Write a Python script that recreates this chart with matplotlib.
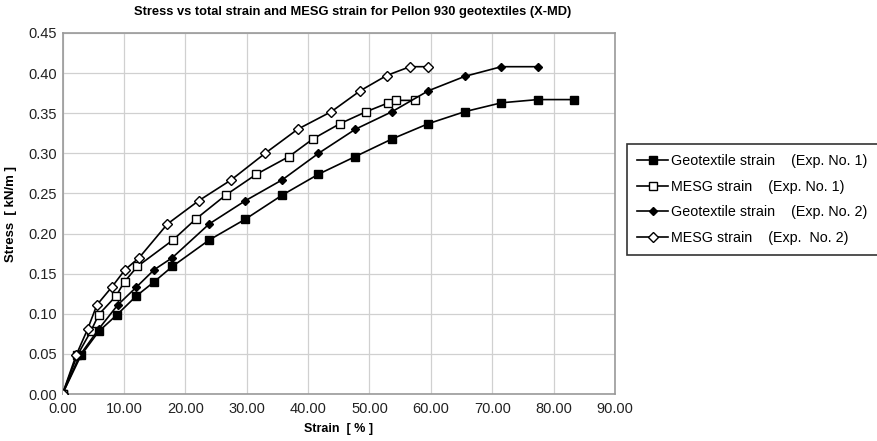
import matplotlib
matplotlib.use("Agg")
import matplotlib.pyplot as plt
import numpy as np

plt.rcParams['font.family'] = ['Liberation Sans', 'DejaVu Sans']

# Geotextile strain (Exp. No. 1)
geo1_x = [0, 3.0, 5.9, 8.9, 12.0, 14.95, 17.9, 23.9, 29.8, 35.8, 41.7, 47.7, 53.7, 59.6, 65.55, 71.5, 77.4, 83.3]
geo1_y = [0, 0.048, 0.078, 0.099, 0.122, 0.140, 0.159, 0.192, 0.218, 0.248, 0.274, 0.296, 0.318, 0.337, 0.352, 0.363, 0.367, 0.367]
# MESG strain (Exp. No. 1)
mesg1_x = [0, 2.4, 4.6, 5.9, 8.7, 10.1, 12.2, 18.0, 21.7, 26.6, 31.6, 36.9, 40.8, 45.2, 49.5, 53.1, 54.4, 57.5]
mesg1_y = [0, 0.048, 0.078, 0.099, 0.122, 0.140, 0.159, 0.192, 0.218, 0.248, 0.274, 0.296, 0.318, 0.337, 0.352, 0.363, 0.366, 0.366]
# Geotextile strain (Exp. No. 2)
geo2_x = [0, 2.8, 5.9, 9.0, 12.0, 14.95, 17.9, 23.9, 29.8, 35.8, 41.7, 47.7, 53.7, 59.6, 65.55, 71.5, 77.4]
geo2_y = [0, 0.048, 0.081, 0.111, 0.133, 0.155, 0.170, 0.212, 0.241, 0.267, 0.300, 0.330, 0.352, 0.378, 0.396, 0.408, 0.408]
# MESG strain (Exp. No. 2)
mesg2_x = [0, 2.2, 4.1, 5.6, 8.0, 10.2, 12.5, 17.1, 22.2, 27.5, 33.0, 38.3, 43.8, 48.5, 52.8, 56.6, 59.6]
mesg2_y = [0, 0.048, 0.081, 0.111, 0.133, 0.155, 0.170, 0.212, 0.241, 0.267, 0.300, 0.330, 0.352, 0.378, 0.397, 0.408, 0.408]

labels = ["Geotextile strain    (Exp. No. 1)",
          "MESG strain    (Exp. No. 1)",
          "Geotextile strain    (Exp. No. 2)",
          "MESG strain    (Exp.  No. 2)"]

x_ticks = [0, 10, 20, 30, 40, 50, 60, 70, 80, 90]
y_ticks = [0.00, 0.05, 0.10, 0.15, 0.20, 0.25, 0.30, 0.35, 0.40, 0.45]

fig = plt.figure(figsize=(8.77, 4.41), dpi=100)
W, H = 877, 441
ax = fig.add_axes([62.5 / W, 1 - 394 / H, (615 - 62.5) / W, (394 - 33) / H])

lw = 1.2
ax.plot(geo1_x, geo1_y, color='black', lw=lw, marker='s', ms=5.5, mfc='black', mec='black', label=labels[0], zorder=3)
ax.plot(mesg1_x, mesg1_y, color='black', lw=lw, marker='s', ms=6, mfc='white', mec='black', mew=1.0, label=labels[1], zorder=3)
ax.plot(geo2_x, geo2_y, color='black', lw=lw, marker='D', ms=4.5, mfc='black', mec='black', label=labels[2], zorder=3)
ax.plot(mesg2_x, mesg2_y, color='black', lw=lw, marker='D', ms=5, mfc='white', mec='black', mew=1.0, label=labels[3], zorder=3)

ax.set_xlim(0, 90)
ax.set_ylim(0, 0.45)
ax.set_xticks(x_ticks)
ax.set_yticks(y_ticks)
ax.set_xticklabels([f"{v:.2f}" for v in x_ticks])
ax.set_yticklabels([f"{v:.2f}" for v in y_ticks])
ax.tick_params(axis='both', labelsize=10.5, length=0, colors='#222222')
ax.tick_params(axis='x', pad=6)
ax.tick_params(axis='y', pad=4)
ax.grid(True, color='#d0d0d0', lw=0.9)
ax.set_axisbelow(True)
for s in ax.spines.values():
    s.set_color('#999999')
    s.set_linewidth(1.2)

ax.set_xlabel("Strain  [ % ]", fontsize=9, fontweight='bold', labelpad=5)
ax.set_ylabel("Stress  [ kN/m ]", fontsize=9.5, fontweight='bold', labelpad=8)

fig.text(353 / W, 1 - 12 / H, "Stress vs total strain and MESG strain for Pellon 930 geotextiles (X-MD)",
         ha='center', va='center', fontsize=9.3, fontweight='bold')

leg = fig.legend(loc='upper left', bbox_to_anchor=(627 / W, 1 - 144 / H), fontsize=10.3,
                 frameon=True, fancybox=False, edgecolor='black', borderpad=0.7,
                 handlelength=2.2, handletextpad=0.2, labelspacing=0.82, borderaxespad=0)
leg.get_frame().set_linewidth(1.2)

fig.savefig("out.png", dpi=100)
